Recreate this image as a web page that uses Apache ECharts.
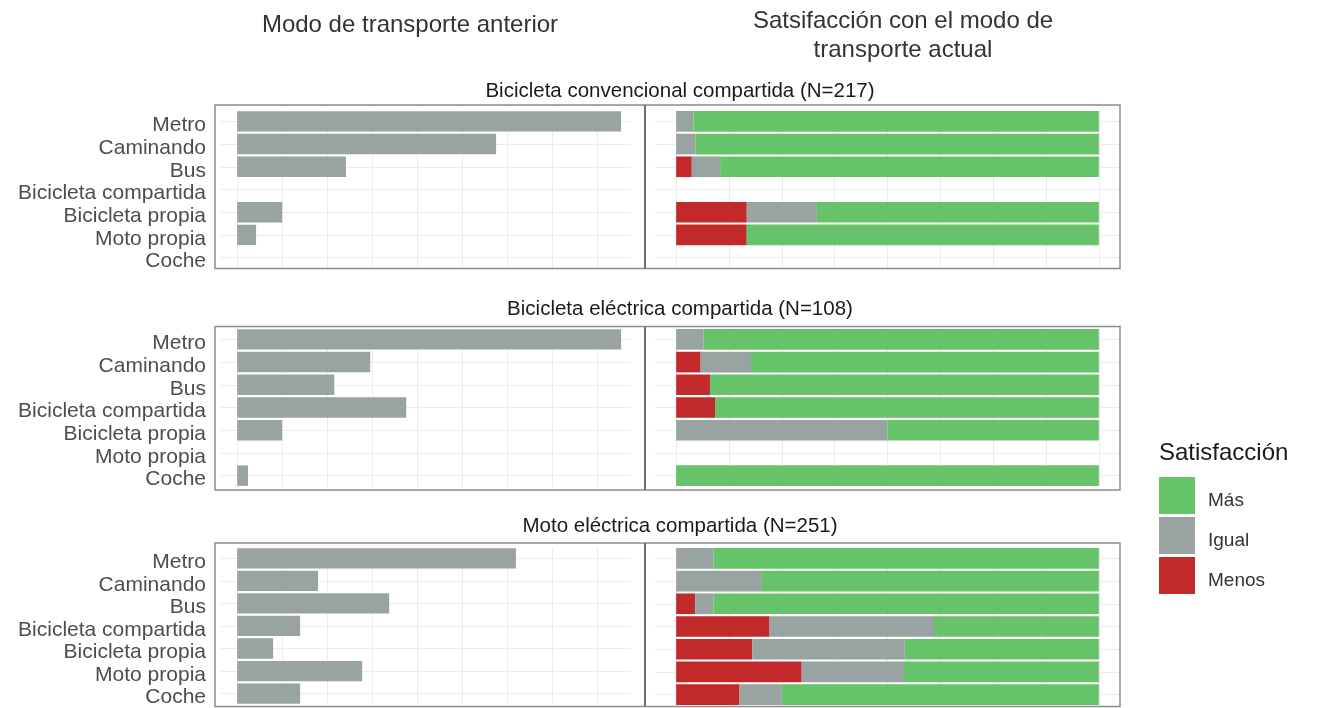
<!DOCTYPE html>
<html><head><meta charset="utf-8">
<script src="https://cdn.jsdelivr.net/npm/echarts@6/dist/echarts.min.js"></script>
<style>html,body{margin:0;padding:0;background:#fff}#c{width:1317px;height:708px}</style>
</head><body><div id="c"></div>
<script>
// ---------------- DATA ----------------
const categories = ['Metro', 'Caminando', 'Bus', 'Bicicleta compartida', 'Bicicleta propia', 'Moto propia', 'Coche'];
const panelTitles = ['Bicicleta convencional compartida (N=217)', 'Bicicleta eléctrica compartida (N=108)', 'Moto eléctrica compartida (N=251)'];
const headerLeft = 'Modo de transporte anterior';
const headerRight = 'Satsifacción con el modo de\ntransporte actual';
const legendTitle = 'Satisfacción';
const levels = ['Menos', 'Igual', 'Más'];

// previous transport mode share (%)
const prevMode1 = [42.7, 28.8, 12.1, null, 5.0, 2.1, null];
const prevMode2 = [42.7, 14.8, 10.8, 18.8, 5.0, null, 1.2];
const prevMode3 = [31.0, 9.0, 16.9, 7.0, 4.0, 13.9, 7.0];

// satisfaction with current mode (%)
const menos1 = [0, 0, 3.7, null, 16.7, 16.7, null];
const igual1 = [4.1, 4.6, 6.7, null, 16.6, 0, null];
const mas1   = [95.9, 95.4, 89.6, null, 66.7, 83.3, null];

const menos2 = [0, 5.8, 8.0, 9.2, 0, null, 0];
const igual2 = [6.5, 11.9, 0, 0, 50.0, null, 0];
const mas2   = [93.5, 82.3, 92.0, 90.8, 50.0, null, 100];

const menos3 = [0, 0, 4.5, 22.1, 18.0, 29.7, 15.0];
const igual3 = [8.8, 20.3, 4.3, 38.9, 36.1, 24.2, 10.0];
const mas3   = [91.2, 79.7, 91.2, 39.0, 45.9, 46.1, 75.0];

const leftGridValues = [0, 5, 10, 15, 20, 25, 30, 35, 40];
const rightGridValues = [0, 12.5, 25, 37.5, 50, 62.5, 75, 87.5, 100];

// ---------------- STYLE / LAYOUT ----------------
const prevRows = [prevMode1, prevMode2, prevMode3];
const satRows = [[menos1, igual1, mas1], [menos2, igual2, mas2], [menos3, igual3, mas3]];
const colors = { 'Menos': '#C1292A', 'Igual': '#99A3A1', 'Más': '#66C36A' };
const barGray = '#99A3A1';
const gridColor = '#ebebeb';
const font = "'Liberation Sans', Arial, sans-serif";

const rowTops = [110, 328, 547];
const rowH = 159;
const boxTops = [105, 326.5, 543];
const boxH = 163.5;
const stripY = [91, 309, 526];

const grids = [], xAxes = [], yAxes = [], series = [], graphics = [];

function gridMarkLine(xs) {
  const data = [];
  categories.forEach((c, i) => data.push({ yAxis: i }));
  xs.forEach(v => data.push({ xAxis: v }));
  return {
    silent: true, symbol: 'none', z: 1,
    label: { show: false },
    lineStyle: { color: gridColor, width: 1, type: 'solid' },
    emphasis: { disabled: true },
    data: data
  };
}

for (let r = 0; r < 3; r++) {
  grids.push({ left: 221, width: 410, top: rowTops[r], height: rowH });
  grids.push({ left: 655, width: 465, top: rowTops[r], height: rowH });
  const gl = 2 * r, gr = 2 * r + 1;
  xAxes.push({ gridIndex: gl, type: 'value', min: -1.8, max: 43.8,
    axisLine: { show: false }, axisTick: { show: false }, axisLabel: { show: false }, splitLine: { show: false } });
  xAxes.push({ gridIndex: gr, type: 'value', min: -5, max: 105,
    axisLine: { show: false }, axisTick: { show: false }, axisLabel: { show: false }, splitLine: { show: false } });
  yAxes.push({ gridIndex: gl, type: 'category', data: categories, inverse: true,
    axisLine: { show: false }, axisTick: { show: false }, splitLine: { show: false },
    axisLabel: { show: true, interval: 0, margin: 15,
      formatter: v => '{a|' + v + '}',
      rich: { a: { fontSize: 21, color: '#4d4d4d', fontFamily: font, padding: [8, 0, 0, 0] } } } });
  yAxes.push({ gridIndex: gr, type: 'category', data: categories, inverse: true,
    axisLine: { show: false }, axisTick: { show: false }, splitLine: { show: false },
    axisLabel: { show: false } });

  series.push({
    type: 'bar', name: 'prev' + r, xAxisIndex: gl, yAxisIndex: gl,
    data: prevRows[r], barCategoryGap: '10%', z: 10,
    itemStyle: { color: barGray }, silent: true,
    markLine: gridMarkLine(leftGridValues)
  });
  levels.forEach((lv, k) => {
    const s = {
      type: 'bar', name: lv, xAxisIndex: gr, yAxisIndex: gr, stack: 'sat' + r,
      data: satRows[r][k], barCategoryGap: '9%', z: 10,
      itemStyle: { color: colors[lv] }, silent: true
    };
    if (k === 0) s.markLine = gridMarkLine(rightGridValues);
    series.push(s);
  });

  graphics.push({ type: 'rect', shape: { x: 215, y: boxTops[r], width: 905, height: boxH },
    style: { fill: 'none', stroke: '#8c8c8c', lineWidth: 1.5 }, z: 100 });
  graphics.push({ type: 'line', shape: { x1: 645, y1: boxTops[r], x2: 645, y2: boxTops[r] + boxH },
    style: { stroke: '#6e6e6e', lineWidth: 2 }, z: 100 });
  graphics.push({ type: 'text', x: 680, y: stripY[r], z: 100,
    style: { text: panelTitles[r], font: '20.5px ' + font, fill: '#1a1a1a', align: 'center', verticalAlign: 'middle' } });
}

graphics.push({ type: 'text', x: 410, y: 25, z: 100,
  style: { text: headerLeft, font: '24px ' + font, fill: '#333', align: 'center', verticalAlign: 'middle' } });
graphics.push({ type: 'text', x: 903, y: 35.5, z: 100,
  style: { text: headerRight, font: '24px ' + font, fill: '#333', align: 'center', verticalAlign: 'middle', lineHeight: 29 } });
graphics.push({ type: 'text', x: 1159, y: 453, z: 100,
  style: { text: legendTitle, font: '24px ' + font, fill: '#1a1a1a', align: 'left', verticalAlign: 'middle' } });

const chart = echarts.init(document.getElementById('c'), null, { renderer: 'canvas' });
chart.setOption({
  animation: false,
  backgroundColor: '#fff',
  grid: grids,
  xAxis: xAxes,
  yAxis: yAxes,
  legend: {
    data: ['Más', 'Igual', 'Menos'], orient: 'vertical', left: 1159, top: 477, padding: 0,
    itemWidth: 36, itemHeight: 37, itemGap: 3, icon: 'rect', selectedMode: false,
    formatter: n => '{a|' + n + '}',
    textStyle: { rich: { a: { fontSize: 19, color: '#333', fontFamily: font, padding: [10, 0, 0, 8] } } }
  },
  series: series,
  graphic: graphics
});
</script>
</body></html>
